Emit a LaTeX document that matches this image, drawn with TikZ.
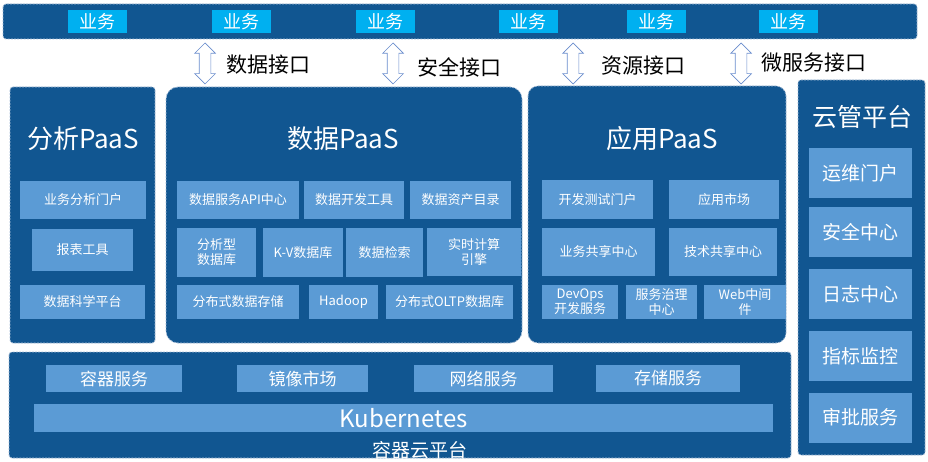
\documentclass[tikz,border=0pt]{standalone}
\usepackage{fontspec}
\setmainfont{Noto Sans CJK SC}
\usetikzlibrary{shapes.arrows}

\definecolor{panelblue}{RGB}{17,86,145}
\definecolor{itemblue}{RGB}{91,155,213}
\definecolor{bizcyan}{RGB}{0,176,240}
\definecolor{edgegray}{RGB}{165,188,214}
\definecolor{arrowblue}{RGB}{105,140,205}

\begin{document}
\begin{tikzpicture}[x=1pt, y=-1pt,
    panel/.style={fill=panelblue, draw=edgegray, line width=0.8pt, dash pattern=on 2pt off 1.2pt},
    item/.style={fill=itemblue, text=white, inner sep=0pt, align=center, font=\fontsize{13}{15}\selectfont},
    bigitem/.style={item, font=\fontsize{19}{22}\selectfont},
    biz/.style={fill=bizcyan, text=white, inner sep=0pt, minimum width=59pt, minimum height=23pt, font=\fontsize{18}{20}\selectfont},
    title/.style={text=white, inner sep=0pt, font=\fontsize{26}{30}\selectfont},
    iface/.style={double arrow, draw=arrowblue, fill=white, line width=0.7pt, rotate=90, inner xsep=0pt, inner ysep=5.5pt,
        minimum height=41pt, minimum width=20pt, double arrow head extend=4.5pt},
    ifacelabel/.style={inner sep=0pt, font=\fontsize{21}{24}\selectfont}]
    \useasboundingbox (0,0) rectangle (928,462);

    % business bar
    \draw[panel, rounded corners=3pt] (3,4) rectangle (917,39);
    \foreach \x [count=\i] in {97.5, 241, 385, 528, 656, 788}
        \node[biz] (biz\i) at (\x,21.5) {业务};

    % interfaces
    \foreach \x/\lx/\ly/\t [count=\i] in {205/268/65/数据接口, 393/459/67/安全接口, 573/643/66/资源接口, 741/814/63/微服务接口} {
        \node[iface] (arrow\i) at (\x,63.5) {};
        \node[ifacelabel] (iface\i) at (\lx,\ly) {\t};
    }

    % analysis PaaS
    \draw[panel, rounded corners=3pt] (10,87) rectangle (155,343);
    \node[title] (anaTitle) at (83,139) {分析PaaS};
    \node[item, minimum width=126pt, minimum height=38pt] (bizPortal) at (83,200) {业务分析门户};
    \node[item, minimum width=101pt, minimum height=42pt] (report) at (82.5,250) {报表工具};
    \node[item, minimum width=125pt, minimum height=34pt] (dsPlat) at (82.5,302) {数据科学平台};

    % data PaaS
    \draw[panel, rounded corners=12pt] (166,87) rectangle (522,343);
    \node[title] (dataTitle) at (343,139) {数据PaaS};
    \node[item, minimum width=122pt, minimum height=38pt] (dataApi) at (238,200) {数据服务API中心};
    \node[item, minimum width=100pt, minimum height=38pt] (dataDev) at (354,200) {数据开发工具};
    \node[item, minimum width=101pt, minimum height=38pt] (dataAsset) at (460.5,200) {数据资产目录};
    \node[item, minimum width=79pt, minimum height=49pt] (anaDb) at (216.5,252.5) {分析型\\数据库};
    \node[item, minimum width=80pt, minimum height=49pt] (kvDb) at (303,252.5) {K-V数据库};
    \node[item, minimum width=77pt, minimum height=49pt] (search) at (384.5,252.5) {数据检索};
    \node[item, minimum width=94pt, minimum height=48pt] (rtEngine) at (474,252) {实时计算\\引擎};
    \node[item, minimum width=122pt, minimum height=34pt] (distStore) at (238,302) {分布式数据存储};
    \node[item, minimum width=69pt, minimum height=34pt] (hadoop) at (343.5,302) {Hadoop};
    \node[item, minimum width=127pt, minimum height=34pt] (oltpDb) at (449.5,302) {分布式OLTP数据库};

    % application PaaS
    \draw[panel, rounded corners=10pt] (528,86) rectangle (786,343);
    \node[title] (appTitle) at (662,139) {应用PaaS};
    \node[item, minimum width=111pt, minimum height=39pt] (devPortal) at (597.5,199.5) {开发测试门户};
    \node[item, minimum width=110pt, minimum height=39pt] (appMarket) at (724,199.5) {应用市场};
    \node[item, minimum width=113pt, minimum height=48pt] (bizShare) at (598.5,252) {业务共享中心};
    \node[item, minimum width=108pt, minimum height=48pt] (techShare) at (723,252) {技术共享中心};
    \node[item, minimum width=76pt, minimum height=34pt] (devOps) at (580,302) {DevOps\\开发服务};
    \node[item, minimum width=71pt, minimum height=34pt] (govern) at (661.5,302) {服务治理\\中心};
    \node[item, minimum width=82pt, minimum height=34pt] (webMid) at (745,302) {Web中间\\件};

    % cloud management
    \draw[panel, rounded corners=3pt] (798,80) rectangle (925,455);
    \node[title, font=\fontsize{25}{28}\selectfont] (cloudTitle) at (862,117) {云管平台};
    \foreach \y/\t [count=\i] in {173/运维门户, 232/安全中心, 294/日志中心, 356/指标监控, 417.5/审批服务}
        \node[bigitem, minimum width=103pt, minimum height=50pt] (cloud\i) at (860.5,\y) {\t};

    % container platform
    \draw[panel, rounded corners=3pt] (9,352) rectangle (791,458);
    \foreach \x/\w/\t [count=\i] in {114/136/容器服务, 302.5/131/镜像市场, 483.5/139/网络服务, 668/144/存储服务}
        \node[item, font=\fontsize{17}{20}\selectfont, minimum width=\w pt, minimum height=27pt] (svc\i) at (\x,378.5) {\t};
    \node[item, font=\fontsize{24}{28}\selectfont, minimum width=739pt, minimum height=28pt] (k8s) at (403.5,418) {Kubernetes};
    \node[title, font=\fontsize{19}{22}\selectfont] (k8sTitle) at (420,450) {容器云平台};
\end{tikzpicture}
\end{document}
